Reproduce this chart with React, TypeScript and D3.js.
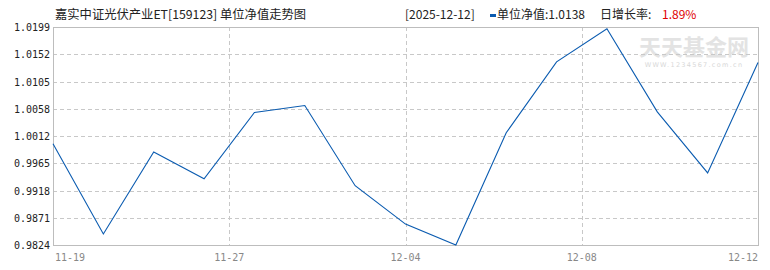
import React from "react";
import * as d3 from "d3";

const title = "嘉实中证光伏产业ET[159123] 单位净值走势图";
const latestDate = "2025-12-12";
const latestNav = "1.0138";
const latestRate = "1.89%";

const navValues = [
  0.9998, 0.9843, 0.9984, 0.9938, 1.0052, 1.0064, 0.9926, 0.986, 0.9824,
  1.0017, 1.0139, 1.0196, 1.0053, 0.9948, 1.0138,
];
const xTickLabels = ["11-19", "11-27", "12-04", "12-08", "12-12"];
const yTickLabels = [
  "0.9824", "0.9871", "0.9918", "0.9965", "1.0012", "1.0058", "1.0105", "1.0152", "1.0199",
];
const yMin = 0.9824;
const yMax = 1.0199;

const W = 770;
const H = 270;
const M = { left: 53, right: 12, top: 27, bottom: 25 };

export default function App() {
  const x = d3
    .scaleLinear()
    .domain([0, navValues.length - 1])
    .range([M.left, W - M.right]);
  const y = d3.scaleLinear().domain([yMin, yMax]).range([H - M.bottom, M.top]);
  const xt = d3
    .scaleLinear()
    .domain([0, xTickLabels.length - 1])
    .range([M.left, W - M.right]);
  const yt = d3
    .scaleLinear()
    .domain([0, yTickLabels.length - 1])
    .range([H - M.bottom, M.top]);

  const line = d3
    .line<number>()
    .x((_, i) => x(i))
    .y((d) => y(d));

  const monoFont = "'DejaVu Sans Mono', monospace";
  const cjkFont = "'Noto Sans CJK SC', sans-serif";

  return (
    <svg
      width={W}
      height={H}
      style={{ position: "absolute", left: 0, top: 0, background: "#fff" }}
    >
      {/* watermark */}
      <text
        x={694}
        y={55}
        textAnchor="middle"
        fontFamily={cjkFont}
        fontSize={22}
        fontWeight={700}
        fill="#e3e3e3"
      >
        天天基金网
      </text>
      <text
        x={694}
        y={67}
        textAnchor="middle"
        fontFamily="'DejaVu Sans', sans-serif"
        fontSize={6.5}
        letterSpacing={1.3}
        fill="#d8d8d8"
      >
        WWW.1234567.com.cn
      </text>

      {/* horizontal grid */}
      {yTickLabels.map((t, i) =>
        i > 0 && i < yTickLabels.length - 1 ? (
          <line
            key={"hg" + i}
            x1={M.left}
            x2={W - M.right}
            y1={Math.round(yt(i)) + 0.5}
            y2={Math.round(yt(i)) + 0.5}
            stroke="#c8c8c8"
            strokeDasharray="4,3"
          />
        ) : null
      )}
      {/* vertical grid */}
      {xTickLabels.map((t, i) =>
        i > 0 && i < xTickLabels.length - 1 ? (
          <line
            key={"vg" + i}
            x1={Math.round(xt(i)) + 0.5}
            x2={Math.round(xt(i)) + 0.5}
            y1={M.top}
            y2={H - M.bottom}
            stroke="#c8c8c8"
            strokeDasharray="4,3"
          />
        ) : null
      )}

      {/* frame */}
      <rect
        x={M.left + 0.5}
        y={M.top + 0.5}
        width={W - M.left - M.right}
        height={H - M.top - M.bottom}
        fill="none"
        stroke="#bdbdbd"
      />

      {/* line */}
      <path d={line(navValues) || ""} fill="none" stroke="#0a5bb0" strokeWidth={1.1} />

      {/* y labels */}
      {yTickLabels.map((t, i) => (
        <text
          key={"yl" + i}
          x={M.left - 3}
          y={yt(i) + 4}
          textAnchor="end"
          fontFamily={monoFont}
          fontSize={10}
          fill="#222"
        >
          {t}
        </text>
      ))}

      {/* x labels */}
      {xTickLabels.map((t, i) => (
        <text
          key={"xl" + i}
          x={i === 0 ? M.left + 2 : xt(i)}
          y={261}
          textAnchor={i === 0 ? "start" : i === xTickLabels.length - 1 ? "end" : "middle"}
          fontFamily={monoFont}
          fontSize={10}
          fill="#888"
        >
          {t}
        </text>
      ))}

      {/* title */}
      <text x={55} y={19} fontFamily={cjkFont} fontSize={12.3} fill="#222">
        {title}
      </text>

      {/* header right */}
      <text x={405} y={19} fontFamily={cjkFont} fontSize={12} fill="#222">
        [{latestDate}]
      </text>
      <rect x={490} y={14} width={6} height={3} fill="#0a5bb0" />
      <text x={497} y={19} fontFamily={cjkFont} fontSize={12} fill="#222">
        单位净值:{latestNav}
      </text>
      <text x={600} y={19} fontFamily={cjkFont} fontSize={12} fill="#222">
        日增长率:
      </text>
      <text x={662} y={19} fontFamily={cjkFont} fontSize={12} fill="#e00000">
        {latestRate}
      </text>
    </svg>
  );
}
